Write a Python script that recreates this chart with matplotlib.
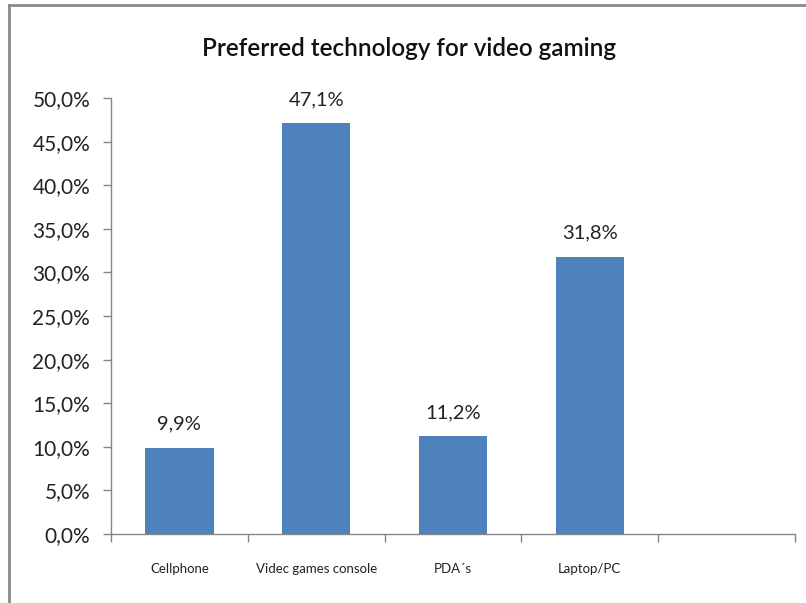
import matplotlib.pyplot as plt
from matplotlib.ticker import FuncFormatter

plt.rcParams['font.family'] = ['Lato', 'DejaVu Sans']

# Survey answers, share of respondents (%)
categories = ["Cellphone", "Videc games console", "PDA´s", "Laptop/PC", ""]
shares = [9.9, 47.1, 11.2, 31.8]
y_ticks = [0, 5, 10, 15, 20, 25, 30, 35, 40, 45, 50]

BAR_COLOR = "#4F81BD"
AXIS_COLOR = "#868686"

fig = plt.figure(figsize=(8.06, 6.03), dpi=100)
ax = fig.add_axes([111 / 806, 1 - 534 / 603, (795 - 111) / 806, (534 - 98) / 603])

positions = list(range(len(shares)))
bars = ax.bar(positions, shares, width=0.5, color=BAR_COLOR, zorder=2)

# value labels above the bars, decimal comma
for rect, val in zip(bars, shares):
    ax.annotate(f"{val:.1f}%".replace(".", ","),
                (rect.get_x() + rect.get_width() / 2, val),
                xytext=(0, 11), textcoords="offset points",
                ha="center", va="bottom", fontsize=14.5, color="#222222")

ax.set_xlim(-0.5, len(categories) - 0.5)
ax.set_ylim(0, 50)
ax.set_yticks(y_ticks)
ax.yaxis.set_major_formatter(FuncFormatter(lambda v, p: f"{v:.1f}%".replace(".", ",")))

# category ticks sit on the boundaries, labels in the middle
ax.set_xticks([i - 0.5 for i in range(len(categories) + 1)])
ax.set_xticklabels([])
ax.set_xticks(range(len(categories)), minor=True)
ax.set_xticklabels(categories, minor=True, fontsize=9.5, color="#222222")
ax.tick_params(axis="x", which="minor", length=0, pad=21)
ax.tick_params(axis="x", which="major", length=6, color=AXIS_COLOR, width=1)
ax.tick_params(axis="y", length=6, color=AXIS_COLOR, width=1, labelsize=15,
               labelcolor="#222222", pad=9)

for side in ["top", "right"]:
    ax.spines[side].set_visible(False)
for side in ["left", "bottom"]:
    ax.spines[side].set_color(AXIS_COLOR)
    ax.spines[side].set_linewidth(1)

fig.text(409 / 806, 1 - 48 / 603, "Preferred technology for video gaming",
         ha="center", va="center", fontsize=17.5, fontweight="semibold", color="#111111")

# chart area frame (top and left edges)
fig.add_artist(plt.Line2D([9 / 806, 1], [1 - 5 / 603, 1 - 5 / 603],
                          transform=fig.transFigure, color="#8a8a8a", lw=2))
fig.add_artist(plt.Line2D([9 / 806, 9 / 806], [0, 1 - 5 / 603],
                          transform=fig.transFigure, color="#8a8a8a", lw=2))

fig.savefig("out.png", dpi=100)
